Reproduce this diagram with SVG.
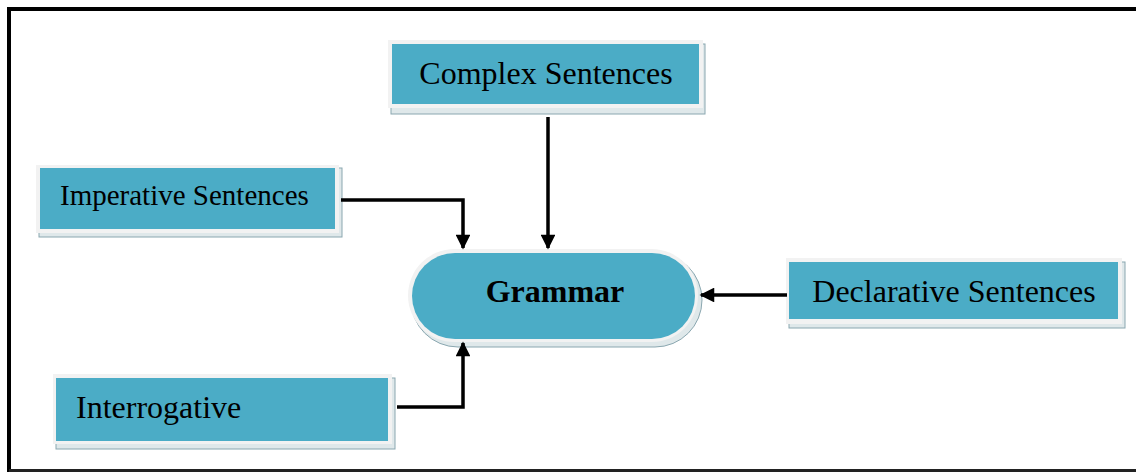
<svg xmlns="http://www.w3.org/2000/svg" width="1136" height="472" viewBox="0 0 1136 472">
<style>
.sh{fill:#dfe8ea;stroke:#8aa7b0;stroke-width:1}
.bd{fill:#f2f2f2}
.fi{fill:#4bacc6}
.t{font-family:"Liberation Serif","Times New Roman",serif;font-size:32px;fill:#000}
.c{fill:none;stroke:#000;stroke-width:3.5}
</style>
<defs>
<marker id="ah" viewBox="0 0 10 10" refX="9" refY="5" markerWidth="4.6" markerHeight="4.2" orient="auto" markerUnits="strokeWidth">
<path d="M0,0 L10,5 L0,10 z" fill="#000"/>
</marker>
</defs>
<rect x="0" y="0" width="1136" height="472" fill="#fff"/>
<path d="M9,472 V9 H1136" fill="none" stroke="#000" stroke-width="4"/>
<line x1="9" y1="470.5" x2="1136" y2="470.5" stroke="#222" stroke-width="3"/>
<g id="complex">
<rect class="sh" x="391" y="44" width="314" height="70"/>
<rect class="bd" x="388" y="40" width="315" height="68"/>
<rect class="fi" x="392" y="44" width="307" height="60"/>
<text class="t" x="546" y="84" text-anchor="middle">Complex Sentences</text>
</g>
<g id="imperative">
<rect class="sh" x="39" y="168" width="303" height="69"/>
<rect class="bd" x="36" y="165" width="303" height="68"/>
<rect class="fi" x="40" y="168" width="295" height="61"/>
<text class="t" x="60" y="205" style="font-size:29px">Imperative Sentences</text>
</g>
<g id="grammar">
<rect class="sh" x="411" y="253" width="291" height="94" rx="47"/>
<rect class="bd" x="408" y="249" width="290" height="93" rx="46.5"/>
<rect class="fi" x="412" y="253" width="283" height="86" rx="43"/>
<text class="t" x="555" y="302" text-anchor="middle" font-weight="bold">Grammar</text>
</g>
<g id="declarative">
<rect class="sh" x="789" y="262" width="336" height="66"/>
<rect class="bd" x="786" y="258" width="336" height="66"/>
<rect class="fi" x="789" y="262" width="329" height="57"/>
<text class="t" x="954" y="302" text-anchor="middle">Declarative Sentences</text>
</g>
<g id="interrogative">
<rect class="sh" x="56" y="378" width="339" height="71"/>
<rect class="bd" x="53" y="374" width="339" height="70"/>
<rect class="fi" x="56" y="378" width="332" height="63"/>
<text class="t" x="76" y="418">Interrogative</text>
</g>
<g id="connectors">
<path class="c" d="M341,200 H463 V248" marker-end="url(#ah)"/>
<path class="c" d="M548,117 V248" marker-end="url(#ah)"/>
<path class="c" d="M787,295 H701" marker-end="url(#ah)"/>
<path class="c" d="M397,407 H463 V343" marker-end="url(#ah)"/>
</g>
</svg>
